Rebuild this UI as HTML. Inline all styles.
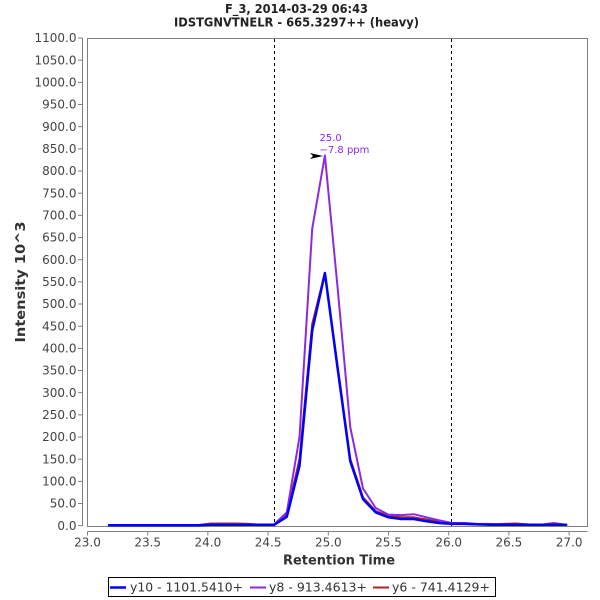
<!DOCTYPE html>
<html>
<head>
<meta charset="utf-8">
<style>
  html,body{margin:0;padding:0;background:#fff;}
  svg{display:block;}
  text{font-family:"DejaVu Sans","Liberation Sans",sans-serif;}
</style>
</head>
<body>
<svg width="600" height="600" viewBox="0 0 600 600" xmlns="http://www.w3.org/2000/svg">
  <rect x="0" y="0" width="600" height="600" fill="#ffffff"/>

  <!-- Title -->
  <text x="296.5" y="13" text-anchor="middle" font-size="12" font-weight="bold" fill="#222" textLength="143" lengthAdjust="spacingAndGlyphs">F_3, 2014-03-29 06:43</text>
  <text x="296.5" y="26.5" text-anchor="middle" font-size="12" font-weight="bold" fill="#222" textLength="245" lengthAdjust="spacingAndGlyphs">IDSTGNVTNELR - 665.3297++ (heavy)</text>

  <!-- Plot border -->
  <rect x="87.5" y="38.5" width="500" height="488" fill="#fff" stroke="#808080" stroke-width="1"/>

  <!-- Y axis -->
  <line x1="82.5" y1="38" x2="82.5" y2="526" stroke="#808080" stroke-width="1"/>
  <g stroke="#808080" stroke-width="1">
    <line x1="78" y1="525.7" x2="82.5" y2="525.7"/>
    <line x1="78" y1="503.5" x2="82.5" y2="503.5"/>
    <line x1="78" y1="481.4" x2="82.5" y2="481.4"/>
    <line x1="78" y1="459.2" x2="82.5" y2="459.2"/>
    <line x1="78" y1="437.0" x2="82.5" y2="437.0"/>
    <line x1="78" y1="414.9" x2="82.5" y2="414.9"/>
    <line x1="78" y1="392.7" x2="82.5" y2="392.7"/>
    <line x1="78" y1="370.5" x2="82.5" y2="370.5"/>
    <line x1="78" y1="348.4" x2="82.5" y2="348.4"/>
    <line x1="78" y1="326.2" x2="82.5" y2="326.2"/>
    <line x1="78" y1="304.0" x2="82.5" y2="304.0"/>
    <line x1="78" y1="281.9" x2="82.5" y2="281.9"/>
    <line x1="78" y1="259.7" x2="82.5" y2="259.7"/>
    <line x1="78" y1="237.5" x2="82.5" y2="237.5"/>
    <line x1="78" y1="215.3" x2="82.5" y2="215.3"/>
    <line x1="78" y1="193.2" x2="82.5" y2="193.2"/>
    <line x1="78" y1="171.0" x2="82.5" y2="171.0"/>
    <line x1="78" y1="148.9" x2="82.5" y2="148.9"/>
    <line x1="78" y1="126.7" x2="82.5" y2="126.7"/>
    <line x1="78" y1="104.5" x2="82.5" y2="104.5"/>
    <line x1="78" y1="82.4" x2="82.5" y2="82.4"/>
    <line x1="78" y1="60.2" x2="82.5" y2="60.2"/>
    <line x1="78" y1="38.0" x2="82.5" y2="38.0"/>
  </g>
  <g font-size="12" fill="#444" text-anchor="end">
    <text x="76.5" y="529.9">0.0</text>
    <text x="76.5" y="507.7">50.0</text>
    <text x="76.5" y="485.6">100.0</text>
    <text x="76.5" y="463.4">150.0</text>
    <text x="76.5" y="441.2">200.0</text>
    <text x="76.5" y="419.1">250.0</text>
    <text x="76.5" y="396.9">300.0</text>
    <text x="76.5" y="374.7">350.0</text>
    <text x="76.5" y="352.6">400.0</text>
    <text x="76.5" y="330.4">450.0</text>
    <text x="76.5" y="308.2">500.0</text>
    <text x="76.5" y="286.1">550.0</text>
    <text x="76.5" y="263.9">600.0</text>
    <text x="76.5" y="241.7">650.0</text>
    <text x="76.5" y="219.5">700.0</text>
    <text x="76.5" y="197.4">750.0</text>
    <text x="76.5" y="175.2">800.0</text>
    <text x="76.5" y="153.1">850.0</text>
    <text x="76.5" y="130.9">900.0</text>
    <text x="76.5" y="108.7">950.0</text>
    <text x="76.5" y="86.6">1000.0</text>
    <text x="76.5" y="64.4">1050.0</text>
    <text x="76.5" y="42.2">1100.0</text>
  </g>
  <text transform="translate(25,282) rotate(-90)" text-anchor="middle" font-size="13" font-weight="bold" fill="#333" textLength="121" lengthAdjust="spacingAndGlyphs">Intensity 10^3</text>

  <!-- X axis -->
  <line x1="87.5" y1="531.5" x2="587.5" y2="531.5" stroke="#808080" stroke-width="1"/>
  <g stroke="#808080" stroke-width="1">
    <line x1="87.5" y1="531.5" x2="87.5" y2="535.5"/>
    <line x1="147.7" y1="531.5" x2="147.7" y2="535.5"/>
    <line x1="207.9" y1="531.5" x2="207.9" y2="535.5"/>
    <line x1="268.1" y1="531.5" x2="268.1" y2="535.5"/>
    <line x1="328.3" y1="531.5" x2="328.3" y2="535.5"/>
    <line x1="388.5" y1="531.5" x2="388.5" y2="535.5"/>
    <line x1="448.7" y1="531.5" x2="448.7" y2="535.5"/>
    <line x1="508.9" y1="531.5" x2="508.9" y2="535.5"/>
    <line x1="569.1" y1="531.5" x2="569.1" y2="535.5"/>
  </g>
  <g font-size="12" fill="#444" text-anchor="middle">
    <text x="87.5" y="546.5">23.0</text>
    <text x="147.7" y="546.5">23.5</text>
    <text x="207.9" y="546.5">24.0</text>
    <text x="268.1" y="546.5">24.5</text>
    <text x="328.3" y="546.5">25.0</text>
    <text x="388.5" y="546.5">25.5</text>
    <text x="448.7" y="546.5">26.0</text>
    <text x="508.9" y="546.5">26.5</text>
    <text x="569.1" y="546.5">27.0</text>
  </g>
  <text x="339" y="564.5" text-anchor="middle" font-size="13" font-weight="bold" fill="#333" textLength="112" lengthAdjust="spacingAndGlyphs">Retention Time</text>

  <!-- Dashed markers -->
  <line x1="274.5" y1="39" x2="274.5" y2="526" stroke="#000" stroke-width="1" stroke-dasharray="3,3"/>
  <line x1="451.5" y1="39" x2="451.5" y2="526" stroke="#000" stroke-width="1" stroke-dasharray="3,3"/>

  <!-- Series -->
  <g fill="none" stroke-linejoin="round" stroke-linecap="round">
    <polyline stroke="#b22222" stroke-width="2" points="109,525.3 121.7,525.3 134.4,525.3 147.1,525.3 159.8,525.3 172.5,525.3 185.2,525.3 197.9,525.3 210.6,523.5 223.3,523.5 236,523.5 248.7,523.9 261.4,524.8 274.1,524.4 286.8,514.6 299.5,459.2 312.2,324 324.9,273 337.6,366.1 350.3,459.2 363,497.3 375.7,511.1 388.4,515.9 401.1,517.3 413.8,517.3 426.5,519.5 439.2,521.7 451.9,523.5 464.6,523.9 477.3,524.4 490,524.4 502.7,523.9 515.4,523.5 528.1,524.4 540.8,524.8 553.5,524.4 566.2,524.8"/>
    <polyline stroke="#8a2be2" stroke-width="2" points="109,525.3 121.7,525.3 134.4,525.3 147.1,525.3 159.8,525.3 172.5,525.3 185.2,525.3 197.9,525.3 210.6,523.9 223.3,523.9 236,523.9 248.7,524.4 261.4,524.8 274.1,524.4 286.8,512.4 299.5,437 312.2,228.7 324.9,155.5 337.6,287.6 350.3,427.3 363,488.5 375.7,508 388.4,514.6 401.1,515.1 413.8,514.2 426.5,517.3 439.2,520.4 451.9,523 464.6,523 477.3,523.9 490,523.9 502.7,524.4 515.4,524.4 528.1,524.8 540.8,524.8 553.5,523 566.2,524.8"/>
    <polyline stroke="#0000ff" stroke-width="2.5" points="109,525.3 121.7,525.3 134.4,525.3 147.1,525.3 159.8,525.3 172.5,525.3 185.2,525.3 197.9,525.3 210.6,524.8 223.3,524.8 236,524.8 248.7,524.8 261.4,524.8 274.1,524.8 286.8,516.8 299.5,465.8 312.2,330.6 324.9,273 337.6,368.3 350.3,461.4 363,499.1 375.7,512.4 388.4,517.3 401.1,519 413.8,519 426.5,521.3 439.2,523 451.9,523.9 464.6,523.9 477.3,524.4 490,524.8 502.7,524.8 515.4,524.8 528.1,524.8 540.8,524.8 553.5,524.8 566.2,524.8"/>
  </g>

  <!-- Peak annotation -->
  <polygon points="310,153 323,156 310,159 313,156" fill="#000"/>
  <text x="319.5" y="141" font-size="10" fill="#8a2be2">25.0</text>
  <text x="319.5" y="153" font-size="10" fill="#8a2be2">−7.8 ppm</text>

  <!-- Legend -->
  <rect x="108.5" y="577.5" width="387" height="19" fill="#fff" stroke="#000" stroke-width="1"/>
  <line x1="110" y1="587.5" x2="126" y2="587.5" stroke="#0000ff" stroke-width="2.5"/>
  <text x="130" y="591.5" font-size="12" fill="#333" textLength="113" lengthAdjust="spacingAndGlyphs">y10 - 1101.5410+</text>
  <line x1="250" y1="587.5" x2="266" y2="587.5" stroke="#8a2be2" stroke-width="2"/>
  <text x="269" y="591.5" font-size="12" fill="#333" textLength="98" lengthAdjust="spacingAndGlyphs">y8 - 913.4613+</text>
  <line x1="373" y1="587.5" x2="389" y2="587.5" stroke="#b22222" stroke-width="2"/>
  <text x="392" y="591.5" font-size="12" fill="#333" textLength="98" lengthAdjust="spacingAndGlyphs">y6 - 741.4129+</text>
</svg>
</body>
</html>
